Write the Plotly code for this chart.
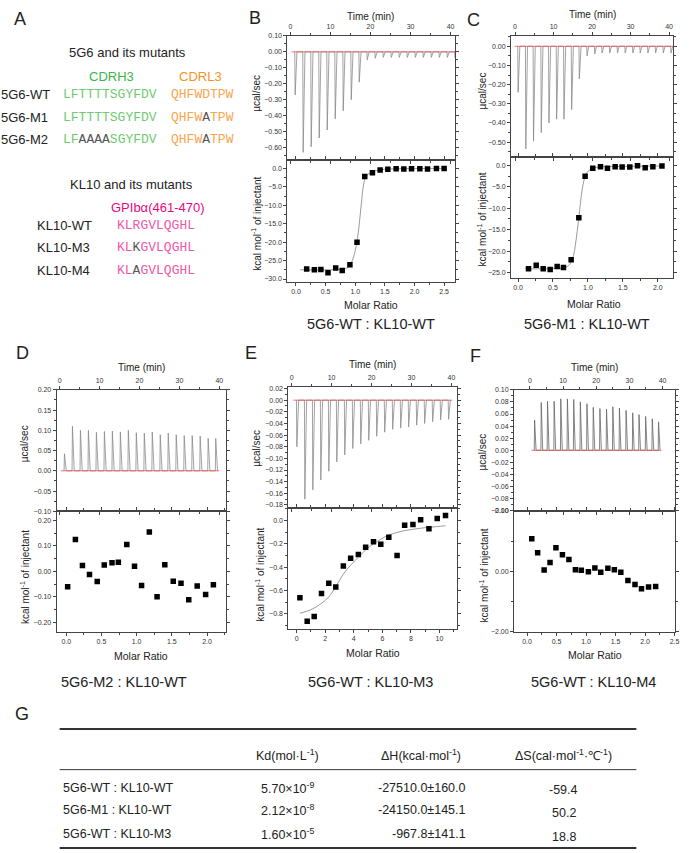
import plotly.graph_objects as go

W, H = 700, 853
SANS = "Arial, Liberation Sans, Helvetica, sans-serif"
MONO = "Courier New, Liberation Mono, monospace"

# ---------------- data ----------------
# Panel B : 5G6-WT : KL10-WT
B_inj_time = [1.1, 3.1, 5.1, 7.1, 9.1, 11.1, 13.1, 15.1, 17.1, 19.1, 21.1,
              23.1, 25.1, 27.1, 29.1, 31.1, 33.1, 35.1, 37.1, 39.1, 41.0]
B_peak = [-0.27, -0.63, -0.595, -0.54, -0.49, -0.42, -0.37, -0.30, -0.19, -0.05, -0.04,
          -0.035, -0.035, -0.035, -0.035, -0.035, -0.035, -0.035, -0.035, -0.035, -0.035]
B_ratio = [0.18, 0.31, 0.42, 0.54, 0.67, 0.78, 0.91, 1.03, 1.16, 1.29, 1.42,
           1.55, 1.69, 1.82, 1.95, 2.09, 2.22, 2.37, 2.50]
B_heat = [-27.3, -27.5, -27.4, -28.3, -27.0, -27.7, -26.1, -20.0, -2.2, -1.2, -0.45,
          -0.27, -0.1, -0.2, -0.1, -0.1, -0.2, 0.0, 0.0]
B_fit_ratio = [0.07, 0.5, 0.8, 0.9, 0.95, 1.0, 1.05, 1.1, 1.14, 1.18, 1.25, 1.4, 1.6, 2.0, 2.5]
B_fit_heat = [-27.5, -27.5, -27.3, -26.6, -25.0, -22.3, -17.5, -10.0, -4.5, -2.2, -1.2,
              -0.45, -0.15, -0.05, 0.0]

# Panel C : 5G6-M1 : KL10-WT
C_inj_time = [0.7, 2.7, 4.7, 6.7, 8.7, 10.7, 12.6, 14.6, 16.6, 18.6, 20.6,
              22.5, 24.5, 26.5, 28.5, 30.5, 32.4, 34.4, 36.4, 38.4, 40.4]
C_peak = [-0.24, -0.535, -0.495, -0.45, -0.40, -0.38, -0.38, -0.33, -0.17, -0.05, -0.04,
          -0.035, -0.035, -0.035, -0.035, -0.035, -0.035, -0.035, -0.035, -0.035, -0.035]
C_ratio = [0.15, 0.26, 0.36, 0.46, 0.56, 0.65, 0.76, 0.87, 0.96, 1.07, 1.18,
           1.28, 1.39, 1.49, 1.60, 1.71, 1.82, 1.93, 2.06]
C_heat = [-24.1, -23.3, -24.1, -24.3, -23.6, -23.8, -22.0, -12.2, -2.55, -0.69, -0.31,
          -0.69, -0.31, -0.39, -0.39, -0.08, -0.54, -0.31, -0.15]
C_fit_ratio = [0.1, 0.4, 0.65, 0.72, 0.78, 0.83, 0.87, 0.92, 0.96, 1.0, 1.07, 1.2, 1.5, 2.08]
C_fit_heat = [-24.1, -24.1, -23.9, -23.4, -21.8, -17.5, -12.2, -5.5, -2.6, -1.4, -0.7,
              -0.35, -0.25, -0.15]

# Panel D : 5G6-M2 : KL10-WT
D_inj_time = [1.1, 3.1, 5.1, 7.1, 9.1, 11.1, 13.1, 15.1, 17.1, 19.1,
              21.1, 23.1, 25.1, 27.1, 29.1, 31.1, 33.1, 35.1, 37.1, 39.0]
D_peak = [0.042, 0.11, 0.10, 0.10, 0.095, 0.097, 0.098, 0.096, 0.10, 0.094,
          0.093, 0.096, 0.089, 0.093, 0.089, 0.087, 0.087, 0.086, 0.08, 0.08]
D_ratio = [0.02, 0.13, 0.23, 0.33, 0.44, 0.54, 0.65, 0.74, 0.86, 0.97,
           1.07, 1.18, 1.29, 1.40, 1.52, 1.63, 1.74, 1.86, 1.98, 2.09]
D_heat = [-0.06, 0.125, 0.023, -0.012, -0.04, 0.025, 0.034, 0.036, 0.106, 0.02,
          -0.055, 0.155, -0.099, 0.026, -0.039, -0.046, -0.111, -0.057, -0.091, -0.052]

# Panel E : 5G6-WT : KL10-M3
E_inj_time = [1.2, 3.2, 5.2, 7.2, 9.2, 11.2, 13.2, 15.2, 17.2, 19.2,
              21.2, 23.2, 25.2, 27.2, 29.2, 31.2, 33.2, 35.2, 37.2, 39.2]
E_peak = [-0.08, -0.17, -0.154, -0.137, -0.122, -0.106, -0.094, -0.083, -0.075, -0.069,
          -0.062, -0.055, -0.05, -0.048, -0.046, -0.043, -0.04, -0.037, -0.034, -0.033]
E_ratio = [0.23, 0.74, 1.23, 1.74, 2.25, 2.74, 3.27, 3.78, 4.32, 4.83,
           5.38, 5.89, 6.45, 7.03, 7.56, 8.14, 8.68, 9.26, 9.84, 10.42]
E_heat = [-0.663, -0.863, -0.823, -0.626, -0.537, -0.571, -0.391, -0.323, -0.291, -0.229,
          -0.183, -0.203, -0.143, -0.30, -0.04, -0.034, 0.006, -0.071, 0.017, 0.043]
E_fit_ratio = [0.25, 1.0, 1.75, 2.25, 2.75, 3.27, 3.8, 4.32, 4.85, 5.38, 6.45, 7.56, 8.68, 9.8, 10.42]
E_fit_heat = [-0.795, -0.765, -0.71, -0.655, -0.565, -0.46, -0.38, -0.315, -0.25, -0.2,
              -0.125, -0.087, -0.066, -0.052, -0.045]

# Panel F : 5G6-WT : KL10-M4
F_inj_time = [1.3, 3.3, 5.2, 7.2, 9.2, 11.2, 13.1, 15.1, 17.1, 19.0,
              21.0, 23.0, 24.9, 26.9, 28.9, 30.9, 32.8, 34.8, 36.8, 38.7]
F_peak = [0.05, 0.079, 0.081, 0.081, 0.085, 0.085, 0.084, 0.08, 0.077, 0.071,
          0.069, 0.068, 0.072, 0.07, 0.066, 0.062, 0.059, 0.056, 0.052, 0.047]
F_ratio = [0.08, 0.18, 0.29, 0.39, 0.49, 0.60, 0.71, 0.82, 0.92, 1.04,
           1.15, 1.25, 1.37, 1.48, 1.59, 1.71, 1.83, 1.94, 2.06, 2.18]
F_heat = [1.08, 0.61, 0.04, 0.29, 0.78, 0.55, 0.39, 0.055, 0.033, -0.011,
          0.11, -0.033, 0.099, 0.055, -0.033, -0.30, -0.44, -0.58, -0.52, -0.50]

# Table G
G_columns = ["Kd(mol·L<sup>-1</sup>)", "ΔH(kcal·mol<sup>-1</sup>)", "ΔS(cal·mol<sup>-1</sup>·℃<sup>-1</sup>)"]
G_rows = ["5G6-WT : KL10-WT", "5G6-M1 : KL10-WT", "5G6-WT : KL10-M3"]
G_kd = ["5.70×10<sup>-9</sup>", "2.12×10<sup>-8</sup>", "1.60×10<sup>-5</sup>"]
G_dh = ["-27510.0±160.0", "-24150.0±145.1", "-967.8±141.1"]
G_ds = ["-59.4", "50.2", "18.8"]

# Panel A colours
GREEN_T, GREEN_S = "#3cb54a", "#6dcc6f"
ORANGE_T, ORANGE_S = "#f7941e", "#f9a54f"
MAG_T, MAG_S = "#e8087f", "#f057a8"
GRAY = "#555555"

# ---------------- helpers ----------------
fig = go.Figure()
annotations = []
shapes = []
layout = dict(width=W, height=H, margin=dict(l=0, r=0, t=0, b=0),
              paper_bgcolor="white", plot_bgcolor="white", showlegend=False)


def txt(x, y, s, size, color="#222", xanchor="center", yanchor="middle", angle=0, family=SANS):
    annotations.append(dict(x=x / W, y=1 - y / H, xref="paper", yref="paper", text=s,
                            showarrow=False, font=dict(size=size, color=color, family=family),
                            xanchor=xanchor, yanchor=yanchor, textangle=angle, borderpad=0))


def axstyle(**kw):
    d = dict(showline=True, linecolor="#444", linewidth=1, mirror="ticks",
             ticks="outside", ticklen=3, tickwidth=1, tickcolor="#444",
             showgrid=False, zeroline=False, autorange=False,
             tickfont=dict(size=7, color="#333", family=SANS))
    d.update(kw)
    return d


def ref(n):
    return "" if n == 1 else str(n)


def thermogram(times, peaks):
    xs, ys = [], []
    for t, p in zip(times, peaks):
        xs += [t, t + 0.1, t + 0.55]
        ys += [0, p, 0]
    return xs, ys


def add_panel(i, xpx, ytop, ysplit, ybot, times, peaks, ratios, heats, fit_r, fit_h,
              trng, toprng, topd, topfmt, topminor, botrng, botd, botfmt, botminor,
              molrng, mold, molfmt, molminor, bot_tickvals=None, spike_color="#8a8a8a"):
    nt, nb = 2 * i + 1, 2 * i + 2
    xd = [xpx[0] / W, xpx[1] / W]
    ydt = [1 - ysplit / H, 1 - ytop / H]
    ydb = [1 - ybot / H, 1 - ysplit / H]
    tx, ty = thermogram(times, peaks)
    fig.add_trace(go.Scatter(x=tx, y=ty, mode="lines", line=dict(color=spike_color, width=0.8),
                             xaxis="x" + ref(nt), yaxis="y" + ref(nt), hoverinfo="skip"))
    fig.add_trace(go.Scatter(x=[times[0] - 0.8, times[-1] + 1.0], y=[0, 0], mode="lines",
                             line=dict(color="#e05050", width=0.8),
                             xaxis="x" + ref(nt), yaxis="y" + ref(nt), hoverinfo="skip"))
    if fit_r is not None:
        fig.add_trace(go.Scatter(x=fit_r, y=fit_h, mode="lines",
                                 line=dict(color="#808080", width=0.8, shape="spline"),
                                 xaxis="x" + ref(nb), yaxis="y" + ref(nb), hoverinfo="skip"))
    fig.add_trace(go.Scatter(x=ratios, y=heats, mode="markers",
                             marker=dict(symbol="square", size=5.5, color="black"),
                             xaxis="x" + ref(nb), yaxis="y" + ref(nb)))
    layout["xaxis" + ref(nt)] = axstyle(domain=xd, anchor="y" + ref(nt), side="top", range=trng,
                                        tick0=0, dtick=10,
                                        minor=dict(ticks="outside", ticklen=2, dtick=5, tick0=0, tickcolor="#444"))
    layout["yaxis" + ref(nt)] = axstyle(domain=ydt, anchor="x" + ref(nt), range=toprng, tick0=0, dtick=topd,
                                        tickformat=topfmt,
                                        minor=dict(ticks="outside", ticklen=2, dtick=topminor, tick0=0, tickcolor="#444"))
    layout["xaxis" + ref(nb)] = axstyle(domain=xd, anchor="y" + ref(nb), range=molrng, tick0=0, dtick=mold,
                                        tickformat=molfmt,
                                        minor=dict(ticks="outside", ticklen=2, dtick=molminor, tick0=0, tickcolor="#444"))
    yb = axstyle(domain=ydb, anchor="x" + ref(nb), range=botrng, tick0=0, dtick=botd, tickformat=botfmt,
                 minor=dict(ticks="outside", ticklen=2, dtick=botminor, tick0=0, tickcolor="#444"))
    if bot_tickvals is not None:
        yb.update(tickmode="array", tickvals=bot_tickvals)
        yb.pop("dtick")
    layout["yaxis" + ref(nb)] = yb


# B
add_panel(0, (289, 458), 32, 157, 280, B_inj_time, B_peak, B_ratio, B_heat, B_fit_ratio, B_fit_heat,
          [-0.75, 41.2], [-0.676, 0.101], 0.1, ".2f", 0.05, [-30.73, 2.35], 5, ".1f", 2.5,
          [-0.146, 2.69], 0.5, ".1f", 0.25)
# C
add_panel(1, (514, 677), 32, 154, 276, C_inj_time, C_peak, C_ratio, C_heat, C_fit_ratio, C_fit_heat,
          [-1.03, 41.05], [-0.576, 0.055], 0.1, ".2f", 0.05, [-26.2, 2.0], 5, ".1f", 2.5,
          [-0.1, 2.22], 0.5, ".1f", 0.25)
# D
add_panel(2, (57, 227), 389, 511.5, 633, D_inj_time, D_peak, D_ratio, D_heat, None, None,
          [-0.75, 41.6], [-0.10, 0.20], 0.05, ".2f", 0.025, [-0.237, 0.236], 0.1, ".2f", 0.05,
          [-0.136, 2.265], 0.5, ".1f", 0.25)
# E
add_panel(3, (290, 460), 386, 508, 630, E_inj_time, E_peak, E_ratio, E_heat, E_fit_ratio, E_fit_heat,
          [-0.83, 41.5], [-0.1849, 0.0229], 0.02, ".2f", 0.01, [-0.929, 0.109], 0.2, ".1f", 0.1,
          [-0.58, 11.25], 2, "d", 1)
# F
add_panel(4, (517, 679), 389, 511, 633, F_inj_time, F_peak, F_ratio, F_heat, None, None,
          [-4.8, 43.8], [-0.1, 0.1], 0.02, ".2f", 0.01, [-2.0, 2.0], 2, ".2f", 1,
          [-0.22, 2.51], 0.5, ".1f", 0.25, bot_tickvals=[-2, 0, 2], spike_color="#666666")

# ---------------- axis titles / captions ----------------
KCAL = "kcal mol<sup>-1</sup> of injectant"
for (tx, ty, ux, uy, kx, ky, mx, my, cx, cy, cap) in [
    (373, 13, 258, 90, 258, 222, 373, 303, 373, 323, "5G6-WT : KL10-WT"),
    (596, 11, 485, 88, 485, 217, 597, 302, 590, 323, "5G6-M1 : KL10-WT"),
    (142, 367, 25, 443, 25, 578, 142, 657, 125, 684, "5G6-M2 : KL10-WT"),
    (375, 363, 258, 448, 262, 576, 375, 654, 373, 684, "5G6-WT : KL10-M3"),
    (598, 367, 485, 452, 487, 576, 598, 656, 597, 684, "5G6-WT : KL10-M4"),
]:
    txt(tx, ty, "Time (min)", 10)
    txt(ux, uy, "µcal/sec", 10, angle=-90)
    txt(kx, ky, KCAL, 10, angle=-90)
    txt(mx, my, "Molar Ratio", 10.5)
    txt(cx, cy, cap, 14.5)

for (lx, ly, lab) in [(20, 15, "A"), (256, 14, "B"), (476, 16, "C"), (23, 352, "D"),
                      (252, 352, "E"), (478, 355, "F"), (22, 716, "G")]:
    txt(lx, ly, lab, 18)

# ---------------- panel A ----------------
def seq(parts):
    return "".join(f'<span style="color:{c}">{s}</span>' for s, c in parts)

txt(128, 49, "5G6 and its mutants", 13)
txt(112, 73, "CDRH3", 13, GREEN_T)
txt(202, 73, "CDRL3", 13, ORANGE_T)
rowsA = [
    ("5G6-WT", [("LFTTTTSGYFDV", GREEN_S)], [("QHFWDTPW", ORANGE_S)]),
    ("5G6-M1", [("LFTTTTSGYFDV", GREEN_S)], [("QHFW", ORANGE_S), ("A", GRAY), ("TPW", ORANGE_S)]),
    ("5G6-M2", [("LF", GREEN_S), ("AAAA", GRAY), ("SGYFDV", GREEN_S)],
     [("QHFW", ORANGE_S), ("A", GRAY), ("TPW", ORANGE_S)]),
]
for (lab, h3, l3), yy in zip(rowsA, [91, 114, 137]):
    txt(0, yy, lab, 13, xanchor="left")
    txt(62.5, yy, seq(h3), 13, xanchor="left", family=MONO)
    txt(170.5, yy, seq(l3), 13, xanchor="left", family=MONO)

txt(132, 182, "KL10 and its mutants", 13)
txt(159, 205, "GPIbα(461-470)", 13, MAG_T)
rowsK = [
    ("KL10-WT", [("KLRGVLQGHL", MAG_S)]),
    ("KL10-M3", [("KL", MAG_S), ("K", GRAY), ("GVLQGHL", MAG_S)]),
    ("KL10-M4", [("KL", MAG_S), ("A", GRAY), ("GVLQGHL", MAG_S)]),
]
for (lab, s), yy in zip(rowsK, [223, 246, 269]):
    txt(36.5, yy, lab, 13, xanchor="left")
    txt(116.5, yy, seq(s), 13, xanchor="left", family=MONO)

# ---------------- table G ----------------
def hline(y, w):
    shapes.append(dict(type="line", xref="paper", yref="paper", x0=60 / W, x1=640 / W,
                       y0=1 - y / H, y1=1 - y / H, line=dict(color="#333", width=w)))

hline(731, 1.8)
hline(772, 1.0)
hline(851, 1.8)
for cx, c in zip([289, 423, 567], G_columns):
    txt(cx, 757, c, 12.5)
for yy, r, kd, dh, ds in zip([790, 813, 837], G_rows, G_kd, G_dh, G_ds):
    txt(62, yy, r, 12.5, xanchor="left")
    txt(289, yy, kd, 12.5)
    txt(470, yy, dh, 12.5, xanchor="right")
    txt(567, yy + 3, ds, 12.5)

layout["annotations"] = annotations
layout["shapes"] = shapes
fig.update_layout(**layout)
fig.write_html("out.html", config={"displayModeBar": False},
               post_script="document.body.style.margin='0px';document.body.style.overflow='hidden';")
